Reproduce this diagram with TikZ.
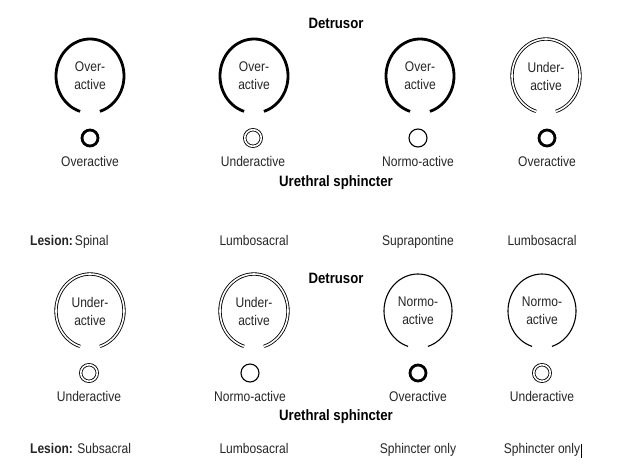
\documentclass[tikz,border=0pt]{standalone}
\usepackage{fontspec}
\setmainfont{Liberation Sans}
\begin{document}
\begin{tikzpicture}[x=1pt,y=1pt,
  over/.style={line width=2.8pt},
  under/.style={double, line width=0.85pt, double distance=1.6pt},
  normo/.style={line width=1.1pt},
  lbl/.style={font=\fontsize{14}{16}\selectfont, xscale=0.86, inner sep=0pt, text height=10pt, text depth=3pt, text=black!85},
  inlbl/.style={font=\fontsize{14}{18}\selectfont, xscale=0.86, inner sep=0pt, align=center, text=black!85},
  head/.style={font=\bfseries\fontsize{15}{17}\selectfont, xscale=0.88, inner sep=0pt, text height=11pt, text depth=3.5pt}]
\useasboundingbox (0,0) rectangle (617,-466);
\fill[white] (0,0) rectangle (617,-466);

% detrusor ring: x, y, style, name, text
\newcommand\Detr[5]{%
  \coordinate (#4) at (#1,-#2);
  \draw[#3] (#4) ++(253:34pt and 37pt) arc[start angle=253, end angle=-73, x radius=34pt, y radius=37pt];
  \node[inlbl] (#4t) at (#4) {#5};}
% sphincter ring: x, y, style, radius, name
\newcommand\Sph[5]{%
  \coordinate (#5) at (#1,-#2);
  \draw[#3] (#5) circle[radius=#4pt];}

% headers
\node[head] (det1) at (336,-25) {Detrusor};
\node[head] (ure1) at (336,-183) {Urethral sphincter};
\node[head] (det2) at (336,-280) {Detrusor};
\node[head] (ure2) at (336,-417) {Urethral sphincter};

% top row
\Detr{90}{76}{over}{d1}{Over-\\active}
\Detr{254}{76}{over}{d2}{Over-\\active}
\Detr{420}{76}{over}{d3}{Over-\\active}
\Detr{546}{76}{under}{d4}{Under-\\active}

\Sph{90}{138}{over}{8}{s1}
\Sph{253}{138}{under}{8.3}{s2}
\Sph{418}{138}{normo}{9}{s3}
\Sph{547}{138}{over}{8}{s4}

\node[lbl] (l1) at (90,-163) {Overactive};
\node[lbl] (l2) at (253,-163) {Underactive};
\node[lbl] (l3) at (418,-163) {Normo-active};
\node[lbl] (l4) at (547,-163) {Overactive};

\node[lbl,anchor=west] (les1) at (30,-242) {\textbf{Lesion:}\,Spinal};
\node[lbl] (les2) at (254,-242) {Lumbosacral};
\node[lbl] (les3) at (418,-242) {Suprapontine};
\node[lbl] (les4) at (542,-242) {Lumbosacral};

% bottom row
\Detr{90}{311}{under}{e1}{Under-\\active}
\Detr{254}{311}{under}{e2}{Under-\\active}
\Detr{418}{311}{normo}{e3}{Normo-\\active}
\Detr{542}{311}{normo}{e4}{Normo-\\active}

\Sph{89}{373}{under}{8.3}{t1}
\Sph{250}{373}{normo}{9}{t2}
\Sph{418}{373}{over}{8}{t3}
\Sph{542}{373}{under}{8.3}{t4}

\node[lbl] (m1) at (89,-398) {Underactive};
\node[lbl] (m2) at (250,-398) {Normo-active};
\node[lbl] (m3) at (418,-398) {Overactive};
\node[lbl] (m4) at (542,-398) {Underactive};

\node[lbl,anchor=west] (les5) at (30,-450) {\textbf{Lesion:} Subsacral};
\node[lbl] (les6) at (254,-450) {Lumbosacral};
\node[lbl] (les7) at (418,-450) {Sphincter only};
\node[lbl] (les8) at (542,-450) {Sphincter only};
\draw[line width=0.8pt] ([xshift=1.5pt,yshift=-1pt]les8.south east) -- ++(0,14);
\end{tikzpicture}
\end{document}
